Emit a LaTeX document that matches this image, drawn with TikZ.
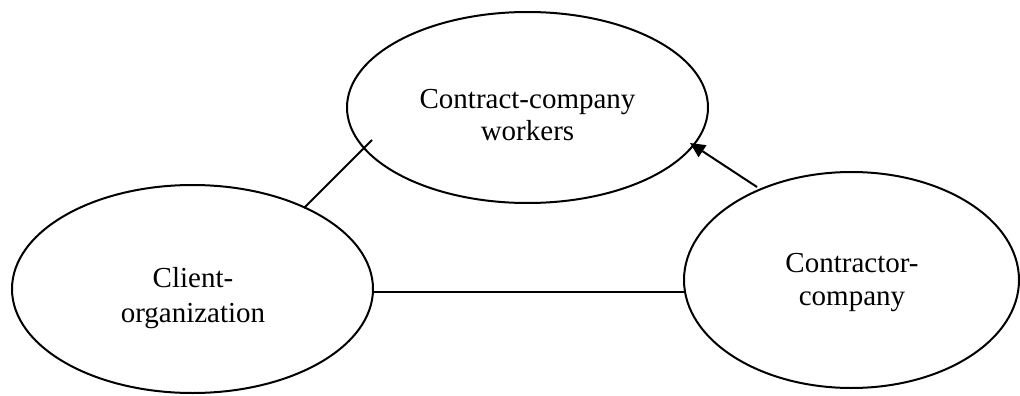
\documentclass[tikz,border=0pt]{standalone}
\usepackage{fontspec}
\setmainfont{Liberation Serif}
\usetikzlibrary{shapes.geometric,arrows.meta}
\begin{document}
\begin{tikzpicture}[x=1pt,y=-1pt,
  oval/.style={draw=black,ellipse,line width=2pt,inner sep=0pt,outer sep=0pt},
  lbl/.style={anchor=base,inner sep=0pt,font=\fontsize{29}{32}\selectfont},
  link/.style={draw=black,line width=2pt},
  arr/.style={link,-{Triangle[length=15pt,width=14pt]}}]
\useasboundingbox (0,0) rectangle (1020,396);
\node[oval,minimum width=361pt,minimum height=191pt] (top) at (527.5,107.5) {};
\node[oval,minimum width=361pt,minimum height=208pt] (left) at (192.5,289) {};
\node[oval,minimum width=335pt,minimum height=216pt] (right) at (851.5,280) {};
\node[lbl] (t1) at (527.5,108) {Contract-company};
\node[lbl] (t2) at (527.5,140) {workers};
\node[lbl] (l1) at (193,287) {Client-};
\node[lbl] (l2) at (193,322) {organization};
\node[lbl] (r1) at (852,272) {Contractor-};
\node[lbl] (r2) at (852,305) {company};
\coordinate (a1) at (304,208);
\coordinate (a2) at (372,140);
\coordinate (b1) at (757,187);
\coordinate (b2) at (690,143);
\coordinate (h1) at (373,292);
\coordinate (h2) at (685,292);
\draw[link] (a1) -- (a2);
\draw[arr] (b1) -- (b2);
\draw[link] (h1) -- (h2);
\end{tikzpicture}
\end{document}
